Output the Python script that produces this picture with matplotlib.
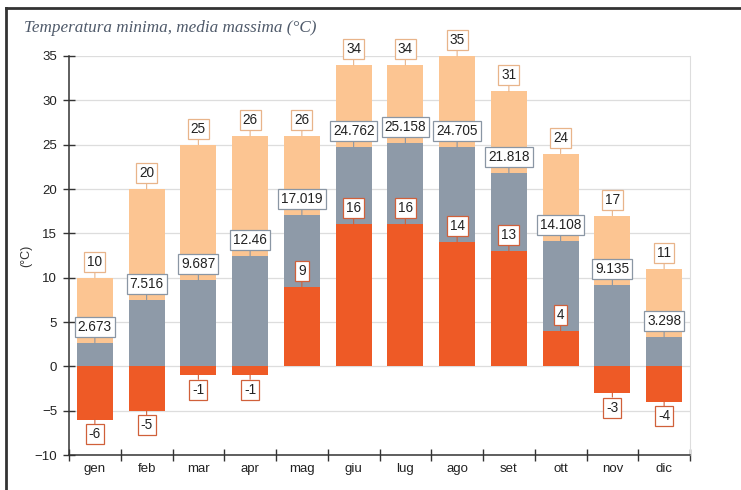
import matplotlib.pyplot as plt
from matplotlib.lines import Line2D
import numpy as np

mesi = ["gen", "feb", "mar", "apr", "mag", "giu", "lug", "ago", "set", "ott", "nov", "dic"]
t_max = [10, 20, 25, 26, 26, 34, 34, 35, 31, 24, 17, 11]
t_media = [2.673, 7.516, 9.687, 12.46, 17.019, 24.762, 25.158, 24.705, 21.818, 14.108, 9.135, 3.298]
t_min = [-6, -5, -1, -1, 9, 16, 16, 14, 13, 4, -3, -4]

c_max, c_media, c_min = "#fcc592", "#8e9aa8", "#ee5a26"
b_max, b_media, b_min = "#e8b48a", "#8a96a4", "#d0603a"

plt.rcParams['font.family'] = ['Liberation Sans', 'DejaVu Sans']

fig = plt.figure(figsize=(7.41, 4.9), dpi=100)
ax = fig.add_axes([69/741, 1-455/490, (690-69)/741, (455-56)/490])

x = np.arange(len(mesi))
w = 0.7
ax.bar(x, t_max, w, color=c_max, zorder=2)
ax.bar(x, t_media, w, color=c_media, zorder=3)
ax.bar(x, t_min, w, color=c_min, zorder=4)


def etichette(vals, bordo, z):
    for xi, v in zip(x, vals):
        off = 11.5 if v >= 0 else -10.5
        ax.annotate(f"{v:g}", xy=(xi, v), xytext=(0, off), textcoords="offset points",
                    ha="center", va="center", fontsize=9.8, color="#222222", zorder=z,
                    bbox=dict(boxstyle="square,pad=0.22", fc="white", ec=bordo, lw=0.9),
                    arrowprops=dict(arrowstyle="-", color=bordo, lw=0.8, shrinkA=0, shrinkB=0))


etichette(t_max, b_max, 6)
etichette(t_media, b_media, 7)
etichette(t_min, b_min, 8)

ax.set_xlim(-0.5, 11.5)
ax.set_ylim(-10, 35)
ax.set_yticks(range(-10, 36, 5))
ax.set_xticks(x)
ax.set_xticklabels(mesi)
ax.set_xticks(np.arange(-0.5, 12, 1), minor=True)
ax.tick_params(axis="x", which="major", length=0, labelsize=9.5, pad=6, labelcolor="#222222")
ax.tick_params(axis="x", which="minor", direction="inout", length=9, width=1, color="#333333")
ax.tick_params(axis="y", direction="inout", length=9, width=1, color="#333333",
               labelsize=9.5, labelcolor="#222222", pad=4)
ax.grid(axis="y", color="#dddddd", lw=0.9, zorder=0)
ax.set_axisbelow(True)
for s in ["left", "bottom"]:
    ax.spines[s].set_color("#333333")
    ax.spines[s].set_linewidth(1.1)
ax.spines["top"].set_visible(False)
ax.spines["right"].set_color("#dddddd")
ax.set_ylabel("(°C)", fontsize=9, color="#333333", labelpad=2)

fig.text(24/741, 1-28/490, "Temperatura minima, media massima (°C)", family="Liberation Serif",
         style="italic", fontsize=12.3, color="#4f5a6a", va="center", ha="left")

fig.add_artist(Line2D([6/741, 6/741], [0, 1-8/490], color="#333333", lw=2))
fig.add_artist(Line2D([6/741, 1], [1-8/490, 1-8/490], color="#333333", lw=2))

fig.savefig("out.png", dpi=100)
